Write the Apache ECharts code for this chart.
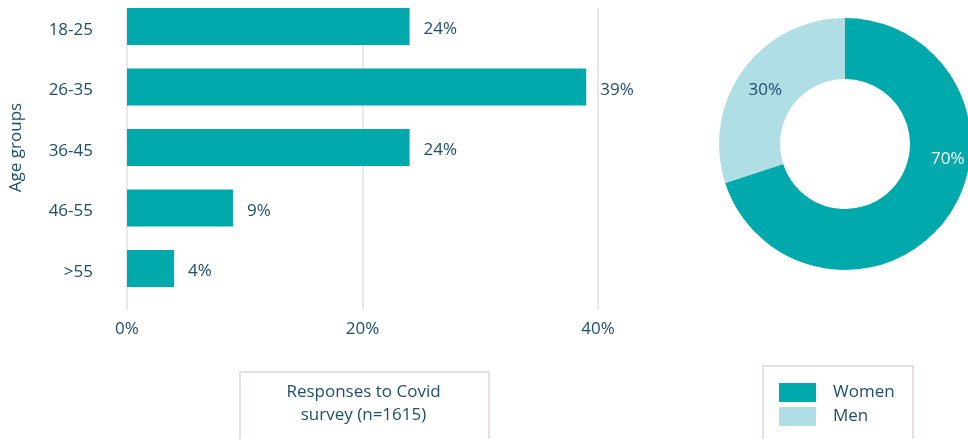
<!DOCTYPE html>
<html>
<head>
<meta charset="utf-8">
<script src="https://cdn.jsdelivr.net/npm/echarts@6/dist/echarts.min.js"></script>
<style>
  html, body { margin: 0; padding: 0; background: #ffffff; }
  #chart { width: 968px; height: 439px; }
</style>
</head>
<body>
<div id="chart"></div>
<script>
// Age-group breakdown of survey responses (percent of respondents)
var ageGroups = ['18-25', '26-35', '36-45', '46-55', '>55'];
var agePercents = [24, 39, 24, 9, 4];
var axisTicks = [0, 20, 40];

// Gender split
var genders = ['Women', 'Men'];
var genderPercents = [70, 30];

var TEXT = '#1d4e6b';
var TEAL = '#00a9ac';
var LIGHT = '#afdee4';
var RULE = '#e6dfe3';
var FONT = '"Open Sans", Lato, sans-serif';
var FS = 17;

var chart = echarts.init(document.getElementById('chart'));

var pieData = genders.map(function (g, i) {
  var item = { name: g, value: genderPercents[i] };
  if (i === 0) {
    item.itemStyle = { color: TEAL };
    item.label = { color: '#ffffff', offset: [23, -43] };
  } else {
    item.itemStyle = { color: LIGHT };
    item.label = { color: TEXT, offset: [0, 4] };
  }
  return item;
});

chart.setOption({
  animation: false,
  textStyle: { fontFamily: FONT },
  grid: [
    // gridlines and percent labels
    { left: 127, width: 471, top: 8, height: 302, outerBoundsMode: 'none' },
    // bars and age labels
    { left: 127, width: 471, top: -3.75, height: 302.5, outerBoundsMode: 'none' }
  ],
  xAxis: [
    {
      gridIndex: 0, type: 'value', min: axisTicks[0], max: axisTicks[axisTicks.length - 1],
      interval: axisTicks[1] - axisTicks[0],
      axisLine: { show: false }, axisTick: { show: false },
      splitLine: { show: true, lineStyle: { color: RULE, width: 1.5 } },
      axisLabel: { color: TEXT, fontSize: FS, fontFamily: FONT, margin: 11, formatter: '{value}%' }
    },
    {
      gridIndex: 1, type: 'value', min: axisTicks[0], max: axisTicks[axisTicks.length - 1],
      show: false
    }
  ],
  yAxis: [
    { gridIndex: 0, type: 'category', data: ageGroups, inverse: true, show: false },
    {
      gridIndex: 1, type: 'category', data: ageGroups, inverse: true,
      axisLine: { show: false }, axisTick: { show: false },
      axisLabel: {
        color: TEXT, fontSize: FS, fontFamily: FONT, margin: 34,
        verticalAlign: 'top', lineHeight: 7
      },
      name: 'Age groups', nameLocation: 'middle', nameGap: 102, nameRotate: 90,
      nameTextStyle: { color: TEXT, fontSize: FS, fontFamily: FONT }
    }
  ],
  legend: {
    orient: 'vertical',
    left: 779, top: 383,
    padding: 0,
    itemWidth: 37, itemHeight: 19, itemGap: 5,
    icon: 'rect',
    data: genders,
    textStyle: { color: TEXT, fontSize: FS, fontFamily: FONT, padding: [0, 0, 0, 12] }
  },
  graphic: [
    {
      type: 'rect', left: 239, top: 371,
      shape: { width: 249, height: 90 },
      style: { fill: '#ffffff', stroke: RULE, lineWidth: 2 }
    },
    {
      type: 'text', x: 363.5, y: 403.5,
      style: {
        text: 'Responses to Covid\nsurvey (n=1615)',
        fill: TEXT, font: FS + 'px ' + FONT,
        align: 'center', verticalAlign: 'middle', lineHeight: 23
      },
      z: 10
    },
    {
      type: 'rect', left: 762, top: 365, z: -1,
      shape: { width: 150, height: 90 },
      style: { fill: '#ffffff', stroke: RULE, lineWidth: 2 }
    }
  ],
  series: [
    {
      type: 'bar', xAxisIndex: 1, yAxisIndex: 1,
      data: agePercents, barWidth: 37,
      itemStyle: { color: TEAL },
      label: {
        show: true, position: 'right', distance: 14, offset: [0, 3],
        color: TEXT, fontSize: FS, fontFamily: FONT, formatter: '{c}%'
      }
    },
    {
      type: 'pie', center: [845, 144], radius: [65, 126],
      startAngle: 90, clockwise: true,
      label: { show: true, position: 'inside', fontSize: FS, fontFamily: FONT, formatter: '{c}%' },
      labelLine: { show: false },
      emphasis: { disabled: true },
      data: pieData
    }
  ]
});
</script>
</body>
</html>
